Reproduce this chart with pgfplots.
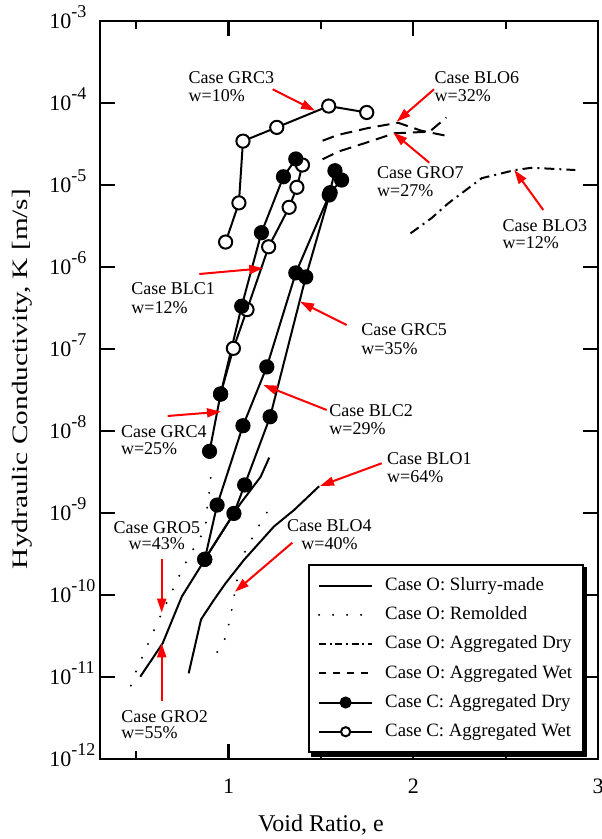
\documentclass[border=0pt]{standalone}
\usepackage{fontspec}
\setmainfont{Liberation Serif}
\usepackage{graphicx}
\usepackage{pgfplots}
\pgfplotsset{compat=1.18}
\usetikzlibrary{arrows.meta}

% power-of-ten tick label in the text font
\newcommand{\tlab}[1]{10\raisebox{0.5em}{\fontsize{9}{9}\selectfont #1}}

\pgfplotsset{
  slurry/.style={black, line width=1pt, forget plot},
  remold/.style={black, line width=1.1pt, line cap=round, dash pattern=on 0pt off 7.5pt, forget plot},
  aggdry/.style={black, line width=1pt, dash pattern=on 5pt off 2.5pt on 1pt off 2.5pt, forget plot},
  aggwet/.style={black, line width=1pt, dash pattern=on 6pt off 3.5pt, forget plot},
  cdry/.style={black, line width=1pt, mark=*, mark size=3.3pt, mark options={solid, fill=black}, forget plot},
  cwet/.style={black, line width=1pt, mark=*, mark size=3.3pt, mark options={solid, fill=white, line width=1pt}, forget plot},
}

\tikzset{
  lab/.style={anchor=base west, inner sep=0pt, font=\fontsize{9}{9}\selectfont},
  rarr/.style={red, line width=1pt, -{Triangle[length=7pt, width=4.5pt]}},
}

\begin{document}
\begin{tikzpicture}
\begin{axis}[
  scale only axis, width=249pt, height=369pt,
  at={(0,0)}, anchor=south west,
  xmin=0.304, xmax=3,
  ymode=log, ymin=1e-12, ymax=1e-3,
  axis line style={line width=1.1pt},
  xtick={1,2,3}, xticklabels={1,2,3},
  minor xtick={0.5,1.5,2.5},
  ytick={1e-12,1e-11,1e-10,1e-9,1e-8,1e-7,1e-6,1e-5,1e-4,1e-3},
  yticklabels={\tlab{-12},\tlab{-11},\tlab{-10},\tlab{-9},\tlab{-8},\tlab{-7},\tlab{-6},\tlab{-5},\tlab{-4},\tlab{-3}},
  yminorticks=false,
  tick pos=both,
  tick align=inside,
  major tick length=7.5pt, minor tick length=4pt,
  tick style={line width=1.1pt, black},
  xticklabel style={font=\fontsize{11}{11}\selectfont, anchor=north, inner sep=0pt, yshift=-10pt},
  yticklabel style={font=\fontsize{11}{11}\selectfont, anchor=base west, inner sep=0pt, xshift=-25.5pt, yshift=-3.7pt},
  legend cell align=left,
  legend image code/.code={\draw[mark repeat=2, mark phase=2, #1] plot coordinates {(0pt,0pt) (13.25pt,0pt) (26.5pt,0pt)};},
  legend style={name=leg, at={(0.4177,0.2638)}, anchor=north west, draw=black, line width=1pt, fill=white,
    font=\fontsize{9.4}{9.4}\selectfont, inner xsep=4.5pt, inner ysep=5pt, row sep=3.9pt, column sep=5pt,
    nodes={inner sep=1pt, text height=6.7pt, text depth=2pt}},
]

% legend samples
\addlegendimage{black, line width=1pt}
\addlegendentry{Case O: Slurry-made}
\addlegendimage{black, line width=1.1pt, line cap=round, dash pattern=on 0pt off 7pt}
\addlegendentry{Case O: Remolded}
\addlegendimage{black, line width=1pt, dash pattern=on 3.5pt off 1.8pt on 1pt off 1.8pt}
\addlegendentry{Case O: Aggregated Dry}
\addlegendimage{black, line width=1pt, dash pattern=on 3.5pt off 3.5pt}
\addlegendentry{Case O: Aggregated Wet}
\addlegendimage{black, line width=1pt, mark=*, mark size=2.5pt, mark options={solid, fill=black}}
\addlegendentry{Case C: Aggregated Dry}
\addlegendimage{black, line width=1pt, mark=*, mark size=2.3pt, mark options={solid, fill=white, line width=1pt}}
\addlegendentry{Case C: Aggregated Wet}

% Case O, slurry-made: GRO2 and BLO1
\addplot[slurry] coordinates {(0.522,1.0e-11) (0.643,2.55e-11) (0.747,9.5e-11) (0.848,2.2e-10) (0.871,2.7e-10) (1.029,9.8e-10) (1.065,1.3e-9) (1.174,2.75e-9) (1.22,4.7e-9)};
\addplot[slurry] coordinates {(0.784,1.1e-11) (0.851,5.0e-11) (0.92,8.6e-11) (0.984,1.38e-10) (1.083,2.65e-10) (1.246,6.8e-10) (1.355,1.08e-9) (1.49,2.1e-9)};

% Case O, remolded: GRO5 and BLO4
\addplot[remold] coordinates {(0.471,7.8e-12) (0.5,1.18e-11) (0.534,1.75e-11) (0.569,2.67e-11) (0.603,4.0e-11) (0.639,6.0e-11) (0.676,9.0e-11) (0.712,1.35e-10) (0.747,2.0e-10) (0.789,3.0e-10) (0.832,4.4e-10) (0.875,6.4e-10) (0.88,1.0e-9) (0.893,1.57e-9) (0.902,2.4e-9) (0.908,3.8e-9)};
\addplot[remold] coordinates {(0.939,2.0e-11) (0.984,3.0e-11) (1.004,4.6e-11) (1.02,7.1e-11) (1.034,1.09e-10) (1.05,1.7e-10) (1.065,2.65e-10) (1.105,3.9e-10) (1.143,5.7e-10) (1.186,8.4e-10) (1.232,1.24e-9)};

% Case O, aggregated dry: BLO3
\addplot[aggdry] coordinates {(1.985,2.55e-6) (2.098,3.9e-6) (2.188,5.9e-6) (2.37,1.2e-5) (2.551,1.51e-5) (2.641,1.61e-5) (2.877,1.51e-5)};

% Case O, aggregated wet: BLO6 and GRO7
\addplot[aggwet] coordinates {(1.509,3.44e-5) (1.591,4.04e-5) (1.754,4.9e-5) (1.917,5.7e-5) (2.043,4.56e-5) (2.203,3.85e-5)};
\addplot[aggwet] coordinates {(1.509,2.04e-5) (1.591,2.52e-5) (1.735,3.2e-5) (1.898,4.24e-5) (2.088,4.43e-5) (2.179,6.6e-5)};

% Case C, aggregated wet: BLC1 and GRC3
\addplot[cwet] coordinates {(0.957,2.8e-8) (1.026,1.01e-7) (1.10,3.0e-7) (1.217,1.75e-6) (1.328,5.3e-6) (1.37,9.3e-6) (1.40,1.74e-5)};
\addplot[cwet] coordinates {(0.984,2.0e-6) (1.056,6.0e-6) (1.078,3.4e-5) (1.261,5.0e-5) (1.542,9.1e-5) (1.748,7.6e-5)};

% Case C, aggregated dry: GRC4, BLC2 and GRC5
\addplot[cdry] coordinates {(0.897,5.6e-9) (0.957,2.8e-8) (1.071,3.3e-7) (1.178,2.6e-6) (1.297,1.25e-5) (1.364,2.06e-5)};
\addplot[cdry] coordinates {(0.871,2.7e-10) (0.938,1.24e-9) (1.078,1.15e-8) (1.207,6.0e-8) (1.364,8.4e-7) (1.545,7.5e-6) (1.576,1.48e-5)};
\addplot[cdry] coordinates {(0.871,2.7e-10) (1.029,9.8e-10) (1.087,2.18e-9) (1.225,1.48e-8) (1.418,7.5e-7) (1.55,8.0e-6) (1.612,1.14e-5)};
\end{axis}

% hard shadow along the right and bottom edges of the legend frame
\fill[black] ([xshift=1.6pt]leg.south west) rectangle ([xshift=1.6pt, yshift=-1.6pt]leg.south east);
\fill[black] ([yshift=-1.6pt]leg.north east) rectangle ([xshift=1.6pt, yshift=-1.6pt]leg.south east);

% annotations, in a 601 x 839 frame measured from the top left
\begin{scope}[x=0.5pt, y=-0.5pt, shift={(-50pt,379.35pt)}]
  \node[lab] at (188.3,84) {Case GRC3};
  \node[lab] at (188.3,101.7) {w=10\%};
  \draw[rarr] (272.7,89.3) -- (315,110.7);

  \node[lab] at (434.3,84) {Case BLO6};
  \node[lab] at (434.3,101.7) {w=32\%};
  \draw[rarr] (434,89.3) -- (396.7,121.7);

  \node[lab] at (376.7,179) {Case GRO7};
  \node[lab] at (376.7,196.7) {w=27\%};
  \draw[rarr] (429.3,162.7) -- (393.3,132.7);

  \node[lab] at (502.3,231.7) {Case BLO3};
  \node[lab] at (502.3,249) {w=12\%};
  \draw[rarr] (543.3,210) -- (514.3,170);

  \node[lab] at (131,295) {Case BLC1};
  \node[lab] at (131,313.3) {w=12\%};
  \draw[rarr] (199.3,274) -- (263.3,268.3);

  \node[lab] at (361,336) {Case GRC5};
  \node[lab] at (361,355) {w=35\%};
  \draw[rarr] (346.7,325) -- (300,301.7);

  \node[lab] at (329,416.7) {Case BLC2};
  \node[lab] at (329,435) {w=29\%};
  \draw[rarr] (326.7,410) -- (263.3,385);

  \node[lab] at (120.7,437.3) {Case GRC4};
  \node[lab] at (120.7,455) {w=25\%};
  \draw[rarr] (167.7,416) -- (221,411.7);

  \node[lab] at (113.3,533.3) {Case GRO5};
  \node[lab] at (128.3,550) {w=43\%};
  \draw[rarr] (161.7,559) -- (161.7,612.7);

  \node[lab] at (121,722.7) {Case GRO2};
  \node[lab] at (121,739) {w=55\%};
  \draw[rarr] (161.7,701) -- (161.7,643.3);

  \node[lab] at (386.7,465) {Case BLO1};
  \node[lab] at (386.7,483) {w=64\%};
  \draw[rarr] (381.7,463.3) -- (320,486);

  \node[lab] at (286.7,531.7) {Case BLO4};
  \node[lab] at (301,549.3) {w=40\%};
  \draw[rarr] (292.3,542.7) -- (235,591.7);

  % axis titles
  \node[rotate=90, inner sep=0pt, font=\fontsize{11}{11}\selectfont] at (22,379) {\scalebox{1.33}[1]{Hydraulic Conductivity, K [m/s]}};
  \node[inner sep=0pt, font=\fontsize{12}{12}\selectfont] at (321,825) {Void Ratio, e};

  \pgfresetboundingbox
  \path[use as bounding box] (0,0) rectangle (601,839);
\end{scope}
\end{tikzpicture}
\end{document}
